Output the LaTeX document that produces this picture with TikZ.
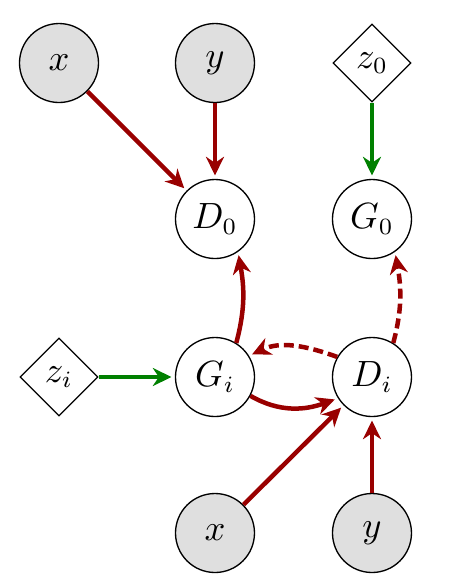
\documentclass[tikz,border=0pt]{standalone}
\usetikzlibrary{arrows.meta,shapes.geometric}
\definecolor{arrred}{RGB}{153,0,0}
\definecolor{arrgreen}{RGB}{0,128,0}
\definecolor{obsgray}{RGB}{223,223,223}
\begin{document}
\begin{tikzpicture}[x=0.3pt,y=-0.3pt,
  font=\fontsize{10.5}{12}\selectfont,
  var/.style={circle,draw,line width=0.4pt,minimum size=23.7pt,inner sep=0pt},
  obs/.style={var,fill=obsgray},
  noise/.style={diamond,draw,line width=0.4pt,minimum size=23.4pt,inner sep=0pt},
  redarr/.style={draw=arrred,line width=1.35pt,-{Stealth[length=5.6pt,width=5.4pt,inset=1.8pt]},shorten >=1pt},
  greenarr/.style={draw=arrgreen,line width=1.35pt,-{Stealth[length=5.6pt,width=5.4pt,inset=1.8pt]},shorten >=1pt},
  dasharr/.style={redarr,dash pattern=on 3pt off 1.5pt}]
\useasboundingbox (0,0) rectangle (460,577);
\node[obs] (x) at (59,63) {$x$};
\node[obs] (y) at (215,63) {$y$};
\node[noise] (z0) at (372,63) {$z_0$};
\node[var] (D0) at (215,219) {$D_0$};
\node[var] (G0) at (372,219) {$G_0$};
\node[noise] (zi) at (59,377) {$z_i$};
\node[var] (Gi) at (215,377) {$G_i$};
\node[var] (Di) at (372,377) {$D_i$};
\node[obs] (xb) at (215,533) {$x$};
\node[obs] (yb) at (372,533) {$y$};
\draw[redarr] (x) -- (D0);
\draw[redarr] (y) -- (D0);
\draw[greenarr] (z0) -- (G0);
\draw[greenarr] (zi) -- (Gi);
\draw[redarr] (Gi.58) to[out=75,in=-80] (D0.-55);
\draw[dasharr] (Di.58) to[out=75,in=-80] (G0.-55);
\draw[dasharr] (Di.150) to[out=160,in=25] (Gi.32);
\draw[redarr] (Gi.-28) to[out=-30,in=200] (Di.-148);
\draw[redarr] (xb) -- (Di);
\draw[redarr] (yb) -- (Di);
\end{tikzpicture}
\end{document}
